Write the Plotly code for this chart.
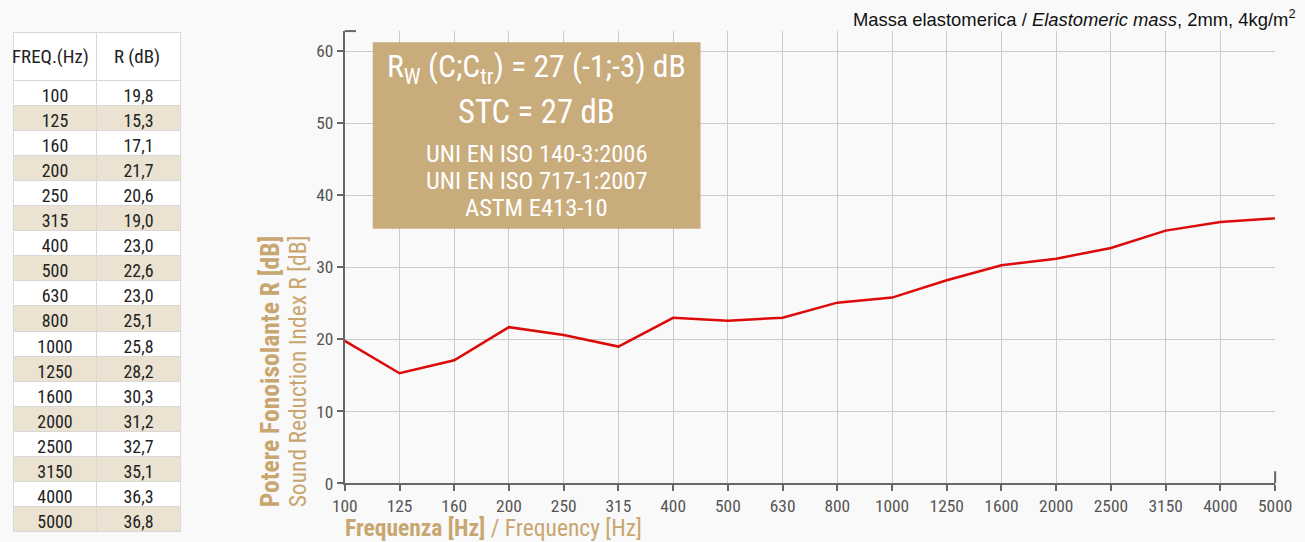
import plotly.graph_objects as go

freq_labels = ["100", "125", "160", "200", "250", "315", "400", "500", "630", "800",
               "1000", "1250", "1600", "2000", "2500", "3150", "4000", "5000"]
r_values = [19.8, 15.3, 17.1, 21.7, 20.6, 19.0, 23.0, 22.6, 23.0, 25.1,
            25.8, 28.2, 30.3, 31.2, 32.7, 35.1, 36.3, 36.8]
y_ticks = [0, 10, 20, 30, 40, 50, 60]
table_header = ["FREQ.(Hz)", "R (dB)"]

# page is photographed at ~0.978 scale with a 12px left offset; size the figure so it fills the shot
SX, SY, OX = 0.978, 0.979, 12.0
W, H = 1323, 554
COND = "Roboto Condensed, Liberation Sans Narrow, Roboto, sans-serif"
GOLD = "#c8a670"
BOX = "#c9ac7b"
BEIGE = "#ece2d2"

def px(x):
    return max(0.0, ((x - OX) / SX) / W)

def py(y):
    return 1 - (y / SY) / H

def fs(s):
    return s / SX

fig = go.Figure()

fills = ["white" if i % 2 == 0 else BEIGE for i in range(len(freq_labels))]
fig.add_trace(go.Table(
    domain=dict(x=[px(5), px(180)], y=[py(540), py(32)]),
    columnwidth=[88, 87],
    header=dict(values=["", ""], fill_color="white", line_color="#d8d8d8",
                align="center", height=48,
                font=dict(family=COND, size=fs(17), color="#222")),
    cells=dict(values=[freq_labels, [f"{v:.1f}".replace(".", ",") for v in r_values]],
               fill_color=[fills, fills], line_color="#d8d8d8", align="center",
               height=25.1, font=dict(family=COND, size=fs(17.5), color="#222")),
))
for i, h in enumerate(table_header):
    fig.add_annotation(xref="paper", yref="paper", x=px(50 + 86 * i), y=py(56),
                       text=h, showarrow=False, xanchor="center", yanchor="middle",
                       font=dict(family=COND, size=fs(18.5), color="#222"))

fig.add_trace(go.Scatter(
    x=freq_labels, y=r_values, mode="lines",
    line=dict(color="#dd0a0a", width=2.5), hoverinfo="x+y", showlegend=False,
))

fig.update_layout(
    width=W, height=H, autosize=False,
    margin=dict(l=0, r=0, t=0, b=0),
    paper_bgcolor="#f9f9f9", plot_bgcolor="#f9f9f9",
    showlegend=False,
    xaxis=dict(domain=[px(344), px(1275)], type="category", range=[0, 17],
               showgrid=True, gridcolor="#cacaca", gridwidth=1,
               showline=True, linecolor="#666", linewidth=2,
               ticks="outside", ticklen=6, tickwidth=2, tickcolor="#666",
               tickfont=dict(family=COND, size=fs(17), color="#555"),
               zeroline=False, fixedrange=True),
    yaxis=dict(domain=[py(482), py(31)], range=[0, 62.8],
               tickvals=y_ticks, showgrid=True, gridcolor="#cacaca", gridwidth=1,
               showline=True, linecolor="#666", linewidth=2,
               ticks="outside", ticklen=6, tickwidth=2, tickcolor="#666",
               tickfont=dict(family=COND, size=fs(17), color="#555"),
               zeroline=False, fixedrange=True),
)

fig.add_shape(type="line", xref="x domain", yref="y domain", x0=0, x1=0.012, y0=1, y1=1,
              line=dict(color="#666", width=2))
fig.add_shape(type="line", xref="x domain", yref="y domain", x0=1, x1=1, y0=0, y1=0.027,
              line=dict(color="#666", width=2))

fig.add_shape(type="rect", xref="paper", yref="paper",
              x0=px(372), x1=px(700), y0=py(228), y1=py(42),
              fillcolor=BOX, line=dict(width=0), layer="above")
box_lines = [
    ("R<sub>W</sub> (C;C<sub>tr</sub>) = 27 (-1;-3) dB", 31, 68),
    ("STC = 27 dB", 32, 112),
    ("UNI EN ISO 140-3:2006", 24, 153),
    ("UNI EN ISO 717-1:2007", 24, 180),
    ("ASTM E413-10", 24, 207),
]
for txt, size, yc in box_lines:
    fig.add_annotation(xref="paper", yref="paper", x=px(536), y=py(yc),
                       text=txt, showarrow=False, xanchor="center", yanchor="middle",
                       font=dict(family=COND, size=fs(size), color="white"))

fig.add_annotation(xref="paper", yref="paper", x=px(269), y=py(508),
                   text="<b>Potere Fonoisolante R [dB]</b>", textangle=-90,
                   showarrow=False, xanchor="center", yanchor="bottom",
                   font=dict(family=COND, size=fs(25), color=GOLD))
fig.add_annotation(xref="paper", yref="paper", x=px(297), y=py(508),
                   text="Sound Reduction Index R [dB]", textangle=-90,
                   showarrow=False, xanchor="center", yanchor="bottom",
                   font=dict(family=COND, size=fs(23), color=GOLD))
fig.add_annotation(xref="paper", yref="paper", x=px(342), y=py(526),
                   text="<b>Frequenza [Hz]</b> / Frequency [Hz]",
                   showarrow=False, xanchor="left", yanchor="middle",
                   font=dict(family=COND, size=fs(23), color=GOLD))

fig.add_annotation(xref="paper", yref="paper", x=px(1298), y=py(18),
                   text="Massa elastomerica / <i>Elastomeric mass</i>, 2mm, 4kg/m<sup>2</sup>",
                   showarrow=False, xanchor="right", yanchor="middle",
                   font=dict(family="Liberation Sans, Arial, sans-serif", size=fs(18), color="#111"))

fig.write_html(
    "out.html",
    config={"displayModeBar": False},
    post_script="document.body.style.margin='0';document.body.style.padding='0';"
                "document.body.style.background='#f9f9f9';",
)
